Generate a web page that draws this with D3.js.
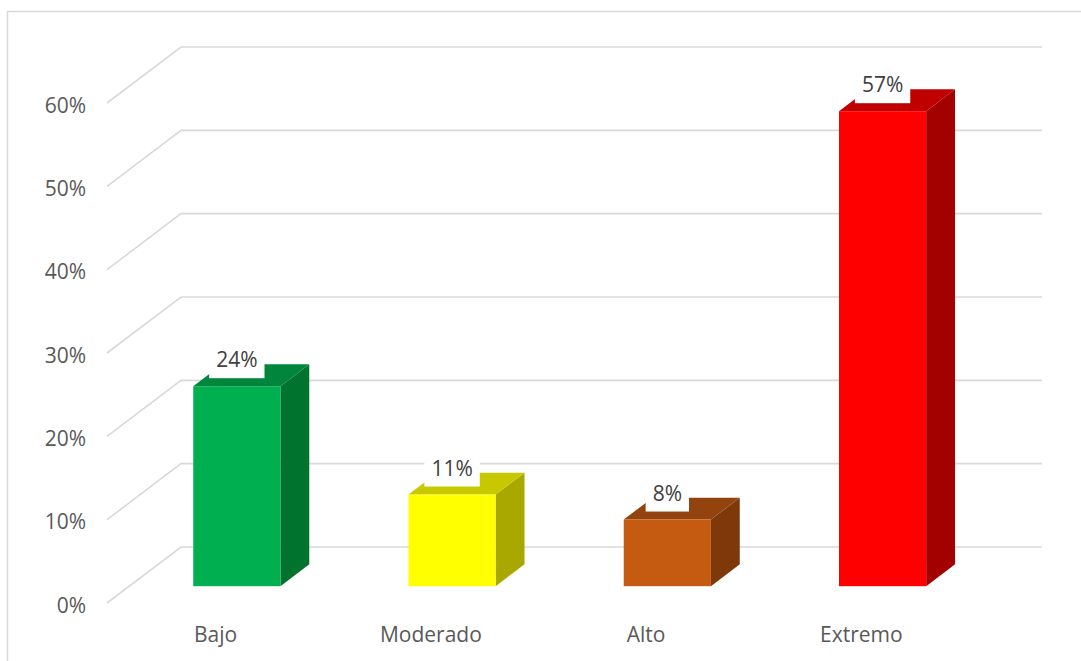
<!DOCTYPE html>
<html>
<head>
<meta charset="utf-8">
<script src="https://cdn.jsdelivr.net/npm/d3@7"></script>
<style>
  html, body { margin: 0; padding: 0; background: #fff; }
  svg { display: block; }
  text { font-family: "Open Sans", "Noto Sans", sans-serif; }
</style>
</head>
<body>
<svg id="chart" width="1081" height="661"></svg>
<script>
// Risk level distribution
const categories = ["Bajo", "Moderado", "Alto", "Extremo"];
const values = [0.24, 0.11, 0.08, 0.57];
const tickValues = [0, 0.1, 0.2, 0.3, 0.4, 0.5, 0.6];
const frontColors = ["#00B050", "#FFFF00", "#C55A11", "#FF0000"];
const topColors = ["#00853D", "#C8C800", "#93430D", "#C00000"];
const sideColors = ["#00732F", "#A8A800", "#7E390B", "#A30000"];

const svg = d3.select("#chart");

// Outer frame of the chart area
svg.append("path")
  .attr("d", "M7.5,661 L7.5,11.5 L1081,11.5")
  .attr("fill", "none").attr("stroke", "#D9D9D9").attr("stroke-width", 1.5);

// 3D projection: floor depth offset
const depthDx = 74, depthDy = -56;
const y = d3.scaleLinear().domain([0, 0.6]).range([603, 103]);
const x = d3.scaleBand().domain(categories).range([107, 968]);

// Gridlines: side-wall diagonals plus back-wall horizontals
const grid = svg.append("g");
tickValues.forEach(t => {
  const yf = y(t), yb = yf + depthDy;
  grid.append("path")
    .attr("d", `M107,${yf} L${107 + depthDx},${yb} L${968 + depthDx},${yb}`)
    .attr("fill", "none").attr("stroke", "#D9D9D9").attr("stroke-width", 1.6);
});

// Y axis labels
svg.append("g").selectAll("text").data(tickValues).join("text")
  .attr("x", 86).attr("y", d => y(d) + 1.5)
  .attr("text-anchor", "end").attr("dominant-baseline", "central")
  .attr("font-size", 21).attr("fill", "#595959")
  .text(d => d3.format(".0%")(d));

// Category labels
svg.append("g").selectAll("text").data(categories).join("text")
  .attr("x", d => x(d) + x.bandwidth() / 2 + 1).attr("y", 642)
  .attr("text-anchor", "middle")
  .attr("font-size", 21).attr("fill", "#595959")
  .text(d => d);

// Bars sit between these depth fractions
const f0 = 0.30, f1 = 0.69;
const barW = x.bandwidth() * 0.405;
const sdx = (f1 - f0) * depthDx, sdy = (f1 - f0) * depthDy;

const bars = svg.append("g");
categories.forEach((c, i) => {
  const cx = x(c) + x.bandwidth() / 2 + f0 * depthDx;
  const x0 = cx - barW / 2, x1 = cx + barW / 2;
  const yBot = y(0) + f0 * depthDy;
  const yTop = yBot - (y(0) - y(values[i]));
  const g = bars.append("g");
  // right side
  g.append("path")
    .attr("d", `M${x1},${yBot} L${x1 + sdx},${yBot + sdy} L${x1 + sdx},${yTop + sdy} L${x1},${yTop} Z`)
    .attr("fill", sideColors[i]);
  // top
  g.append("path")
    .attr("d", `M${x0},${yTop} L${x1},${yTop} L${x1 + sdx},${yTop + sdy} L${x0 + sdx},${yTop + sdy} Z`)
    .attr("fill", topColors[i]);
  // front
  g.append("rect")
    .attr("x", x0).attr("y", yTop).attr("width", barW).attr("height", yBot - yTop)
    .attr("fill", frontColors[i]);

  // value label on a white box
  const lbl = svg.append("g");
  const t = lbl.append("text")
    .attr("x", cx).attr("y", yTop - 19)
    .attr("text-anchor", "middle")
    .attr("font-size", 21).attr("fill", "#404040")
    .text(d3.format(".0%")(values[i]));
  const w = t.node().getComputedTextLength() + 14;
  lbl.insert("rect", "text")
    .attr("x", cx - w / 2).attr("y", yTop - 8 - 30)
    .attr("width", w).attr("height", 30)
    .attr("fill", "#fff");
});
</script>
</body>
</html>
